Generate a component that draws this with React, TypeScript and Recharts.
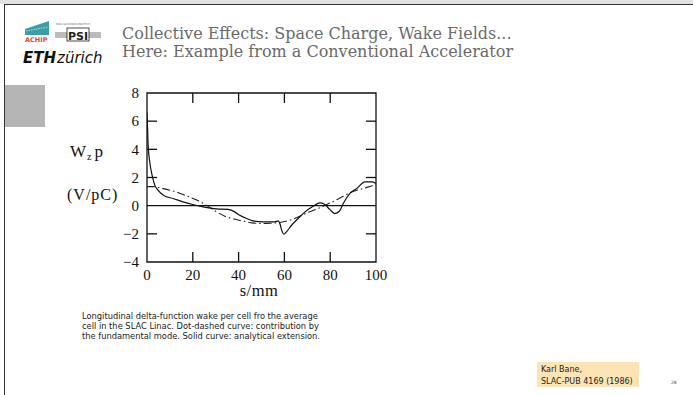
import React from 'react';
import { LineChart, Line, XAxis, YAxis, ReferenceLine, ReferenceArea } from 'recharts';

// Solid curve: analytical extension (s in mm, W_z p in V/pC)
const solidS = [0, 0.5, 1.2, 2.4, 3.4, 4.8, 7.7, 11.4, 15.7, 20, 24.5, 30.3, 35.4, 38.3, 40.5, 43.5, 46.3, 50.7, 55.8, 57.3, 58, 58.8, 59.8, 60.9, 63.1, 66, 69, 72, 75.5, 77.5, 80, 82, 84, 85.7, 88.6, 91.6, 95.2, 98.1, 100];
const solidW = [6.6, 4.3, 3.1, 2.05, 1.46, 1.1, 0.68, 0.51, 0.27, 0.08, -0.08, -0.23, -0.27, -0.44, -0.68, -0.91, -1.08, -1.15, -1.15, -1.08, -1.27, -1.74, -2.03, -1.86, -1.39, -0.91, -0.44, -0.1, 0.2, 0.1, -0.3, -0.56, -0.4, 0.16, 0.87, 1.22, 1.69, 1.69, 1.58];

// Dot-dashed curve: fundamental mode contribution
const modeS = [0, 3, 6, 10, 14, 18, 22, 26, 30, 34, 38, 42, 46, 50, 54, 58, 62, 66, 70, 74, 78, 82, 86, 90, 94, 98, 100];
const modeW = [1.35, 1.35, 1.25, 1.1, 0.9, 0.65, 0.38, 0.02, -0.4, -0.75, -0.95, -1.1, -1.22, -1.27, -1.25, -1.2, -1.05, -0.8, -0.5, -0.25, 0.05, 0.35, 0.7, 1.0, 1.2, 1.4, 1.5];

const xTicks = [0, 20, 40, 60, 80, 100];
const yTicks = [-4, -2, 0, 2, 4, 6, 8];
const xInnerTicks = [20, 40, 60, 80];
const yInnerTicks = [6, 4, 2, -2];

const captionLines = [
  'Longitudinal delta-function wake per cell fro the average',
  'cell in the SLAC Linac. Dot-dashed curve: contribution by',
  'the fundamental mode. Solid curve: analytical extension.',
];

const solidData = solidS.map((s, i) => ({ s, w: solidW[i] }));
const modeData = modeS.map((s, i) => ({ s, w: modeW[i] }));

const fmt = (v: number) => (v < 0 ? '\u2212' + Math.abs(v) : String(v));

const serif = '"Liberation Serif", "DejaVu Serif", serif';
const titleSerif = '"DejaVu Serif", "Liberation Serif", serif';
const sans = '"DejaVu Sans", "Noto Sans", sans-serif';

export default function App() {
  const xTickLen = 4.4;
  const yTickLen = 0.71;
  return (
    <div style={{ position: 'absolute', left: 0, top: 0, width: 693, height: 395, background: '#fff', overflow: 'hidden' }}>
      <svg width={693} height={395} style={{ position: 'absolute', left: 0, top: 0 }}>
        <rect x={0} y={0} width={693} height={4} fill="#e2e2e2" />
        <line x1={4} y1={4.5} x2={693} y2={4.5} stroke="#333" strokeWidth={1} />
        <line x1={4.5} y1={4} x2={4.5} y2={395} stroke="#333" strokeWidth={1} />
        <rect x={5} y={85} width={40} height={42} fill="#b5b5b5" />
        {/* ACHIP logo */}
        <polygon points="25,29 49,21 49,35 25,35" fill="#3b9ea6" />
        <line x1={26} y1={31} x2={48} y2={27} stroke="#fff" strokeWidth={0.6} strokeDasharray="1.5 1" />
        <text x={25} y={42} fontFamily={sans} fontSize={6.5} fontWeight="bold" fill="#e2472c">ACHIP</text>
        {/* PSI logo */}
        <text x={56} y={25} fontFamily={sans} fontSize={2.6} fill="#666">PAUL SCHERRER INSTITUT</text>
        <rect x={55} y={32} width={46} height={6} fill="#bcbcbc" />
        <rect x={67} y={28} width={22} height={13} fill="#fff" stroke="#222" strokeWidth={0.8} />
        <text x={78} y={39.5} textAnchor="middle" fontFamily={sans} fontSize={11} fontWeight="bold" fill="#222">PSI</text>
        {/* ETH logo */}
        <text x={23} y={63} fontFamily={sans} fontSize={15} fill="#111">
          <tspan fontWeight="bold" fontStyle="italic">ETH</tspan>
          <tspan fontStyle="italic" dx={1}>zürich</tspan>
        </text>
        {/* Title */}
        <text x={122} y={39} fontFamily={titleSerif} fontSize={16} fill="#6a6a6a">Collective Effects: Space Charge, Wake Fields...</text>
        <text x={122} y={57} fontFamily={titleSerif} fontSize={16} fill="#6a6a6a">Here: Example from a Conventional Accelerator</text>
        {/* Axis labels */}
        <text x={70} y={157} fontFamily={serif} fontSize={17} fill="#111">
          W<tspan fontSize={10} dy={3} dx={1}>z</tspan><tspan dy={-3} dx={3}>p</tspan>
        </text>
        <text x={67} y={200} fontFamily={serif} fontSize={16} letterSpacing={1} fill="#111">(V/pC)</text>
        <text x={259} y={296} textAnchor="middle" fontFamily={serif} fontSize={16.5} letterSpacing={0.5} fill="#111">s/mm</text>
        {/* Caption */}
        {captionLines.map((t, i) => (
          <text key={i} x={82} y={319 + i * 10} fontFamily={sans} fontSize={8.3} fill="#222">{t}</text>
        ))}
        {/* Reference box */}
        <rect x={537} y={362} width={102} height={25} fill="#fde4b4" />
        <text x={541} y={372} fontFamily={sans} fontSize={8} fill="#222">Karl Bane,</text>
        <text x={541} y={384} fontFamily={sans} fontSize={8} fill="#222">SLAC-PUB 4169 (1986)</text>
        <text x={671} y={384} fontFamily={sans} fontSize={4.5} fill="#444">28</text>
      </svg>
      <div style={{ position: 'absolute', left: 0, top: 0 }}>
        <LineChart width={693} height={395} margin={{ top: 93, right: 317, bottom: 103, left: 107 }}>
          <XAxis
            dataKey="s"
            type="number"
            domain={[0, 100]}
            ticks={xTicks}
            tickLine={false}
            axisLine={false}
            height={30}
            tickMargin={1}
            tick={{ fontFamily: serif, fontSize: 15, fill: '#111' }}
            allowDataOverflow
          />
          <YAxis
            type="number"
            domain={[-4, 8]}
            ticks={yTicks}
            tickFormatter={fmt}
            tickLine={false}
            axisLine={false}
            width={40}
            tick={{ fontFamily: serif, fontSize: 15, fill: '#111' }}
            allowDataOverflow
          />
          <ReferenceArea x1={0} x2={100} y1={-4} y2={8} fill="none" fillOpacity={0} stroke="#111" strokeWidth={1.3} />
          <ReferenceLine y={0} stroke="#111" strokeWidth={1.3} />
          {xInnerTicks.map((t) => (
            <ReferenceLine key={'xb' + t} segment={[{ x: t, y: -4 }, { x: t, y: -4 + yTickLen }]} stroke="#111" strokeWidth={1.3} />
          ))}
          {xInnerTicks.map((t) => (
            <ReferenceLine key={'xt' + t} segment={[{ x: t, y: 8 }, { x: t, y: 8 - yTickLen }]} stroke="#111" strokeWidth={1.3} />
          ))}
          {yInnerTicks.map((t) => (
            <ReferenceLine key={'yl' + t} segment={[{ x: 0, y: t }, { x: xTickLen, y: t }]} stroke="#111" strokeWidth={1.3} />
          ))}
          {yInnerTicks.map((t) => (
            <ReferenceLine key={'yr' + t} segment={[{ x: 100, y: t }, { x: 100 - xTickLen, y: t }]} stroke="#111" strokeWidth={1.3} />
          ))}
          <Line data={modeData} dataKey="w" type="monotone" stroke="#222" strokeWidth={1.1} strokeDasharray="8 3 1.5 3" dot={false} isAnimationActive={false} />
          <Line data={solidData} dataKey="w" type="monotone" stroke="#111" strokeWidth={1.2} dot={false} isAnimationActive={false} />
        </LineChart>
      </div>
    </div>
  );
}
